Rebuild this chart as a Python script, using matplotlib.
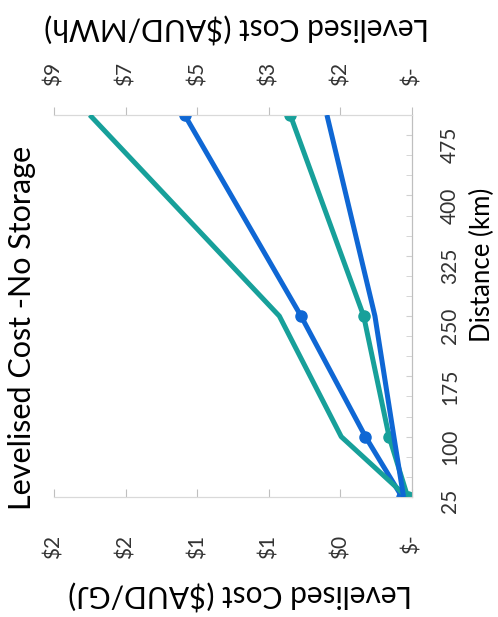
import matplotlib

matplotlib.use("Agg")
import matplotlib.pyplot as plt

plt.rcParams["font.family"] = ["Lato", "DejaVu Sans"]

# distance (km) at which the series have points
distance = [25, 100, 250, 500]

# series on the primary axis ($AUD/GJ)
blue_marker_gj = [0.056, 0.26, 0.62, 1.27]
teal_marker_gj = [0.024, 0.128, 0.27, 0.68]

# series on the secondary axis ($AUD/MWh)
teal_line_mwh = [0.12, 1.68, 3.15, 7.65]
blue_line_mwh = [0.20, 0.43, 0.88, 2.02]

gj_ticks = [0, 0.4, 0.8, 1.2, 1.6, 2.0]
gj_labels = ["$-", "$0", "$1", "$1", "$2", "$2"]
mwh_ticks = [0, 1.7, 3.4, 5.1, 6.8, 8.5]
mwh_labels = ["$-", "$2", "$3", "$5", "$7", "$9"]
dist_ticks = [25, 100, 175, 250, 325, 400, 475]
dist_minor = list(range(25, 501, 25))

blue = "#0F67D4"
teal = "#17A09A"
grid_grey = "#d9d9d9"
label_grey = "#333333"

W, H = 498, 617
fig = plt.figure(figsize=(W / 100, H / 100), dpi=100)
ax = fig.add_axes([54 / W, 1 - 497 / H, (412 - 54) / W, (497 - 115) / H])
ax2 = ax.twiny()

ax.set_xlim(gj_ticks[-1], 0)
ax2.set_xlim(mwh_ticks[-1], 0)
ax.set_ylim(25, 500)

ax2.plot(teal_line_mwh, distance, color=teal, linewidth=3.6, solid_capstyle="butt", zorder=3)
ax2.plot(blue_line_mwh, distance, color=blue, linewidth=3.6, solid_capstyle="butt", zorder=3)
ax.plot(blue_marker_gj, distance, color=blue, linewidth=3.6, marker="o", markersize=8, zorder=4)
ax.plot(teal_marker_gj, distance, color=teal, linewidth=3.6, marker="o", markersize=8, zorder=4)

for a in (ax, ax2):
    a.spines["left"].set_visible(False)
    a.spines["top"].set_color(grid_grey)
    a.spines["bottom"].set_color(grid_grey)
    a.spines["right"].set_color("#bfbfbf")
    a.patch.set_visible(False)

ax.set_xticks(gj_ticks, gj_labels, rotation=90)
ax.tick_params(axis="x", direction="in", length=6, color="#bfbfbf", pad=27,
               labelsize=15, labelcolor=label_grey)
ax2.set_xticks(mwh_ticks, mwh_labels, rotation=90)
ax2.tick_params(axis="x", direction="out", length=6, color="#bfbfbf", pad=15,
                labelsize=15, labelcolor=label_grey)

ax.yaxis.tick_right()
ax.set_yticks(dist_minor, minor=True)
ax.set_yticks(dist_ticks, [str(d) for d in dist_ticks], rotation=90)
ax.tick_params(axis="y", which="both", direction="in", length=4, color="#d0d0d0")
ax.tick_params(axis="y", which="major", pad=20, labelsize=15, labelcolor=label_grey)

fig.text(22 / W, 1 - 328 / H, "Levelised Cost -No Storage", rotation=90,
         ha="center", va="center", fontsize=22)
fig.text(482 / W, 1 - 265 / H, "Distance (km)", rotation=90,
         ha="center", va="center", fontsize=18.5)
fig.text(237 / W, 1 - 28 / H, "Levelised Cost ($AUD/MWh)", rotation=180,
         ha="center", va="center", fontsize=21.5)
fig.text(240 / W, 1 - 595 / H, "Levelised Cost ($AUD/GJ)", rotation=180,
         ha="center", va="center", fontsize=21.5)

fig.savefig("out.png", dpi=100)
